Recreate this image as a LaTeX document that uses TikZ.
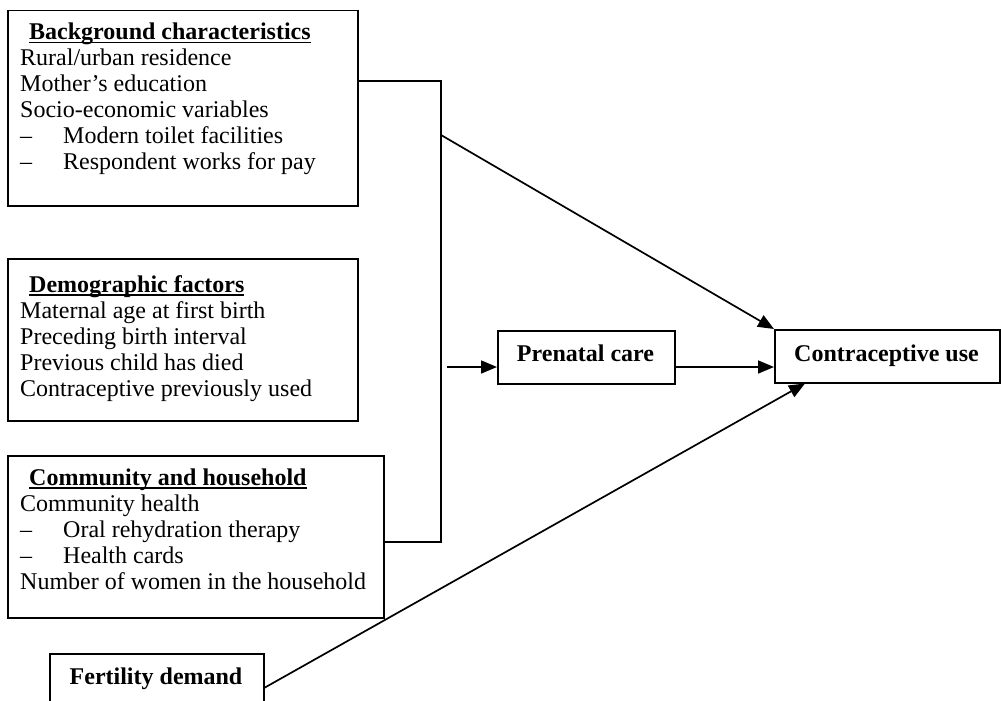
\documentclass[tikz,border=0pt]{standalone}
\usepackage{fontspec}
\setmainfont{Liberation Serif}
\usetikzlibrary{arrows.meta,calc}
\newcommand\myul[1]{\setbox0\hbox{#1}\rlap{\rule[-3.5pt]{\wd0}{1.4pt}}\box0}
\begin{document}
\begin{tikzpicture}[x=1pt,y=-1pt,
  box/.style={draw, line width=1.5pt, anchor=north west, inner sep=0pt},
  txt/.style={font=\fontsize{24}{26}\selectfont, inner sep=0pt, anchor=base west},
  btxt/.style={font=\fontsize{24}{26}\selectfont\bfseries, inner sep=0pt, anchor=base},
  conn/.style={line width=1.7pt},
  arr/.style={conn, -{Triangle[length=16pt,width=13pt]}}]
\clip (0,0) rectangle (1001,701);
\fill[white] (0,0) rectangle (1001,701);
% boxes
\node[box, minimum width=350pt, minimum height=195pt] (bg) at (7,10) {};
\node[box, minimum width=350pt, minimum height=162pt] (dm) at (7,258) {};
\node[box, minimum width=376pt, minimum height=162pt] (ch) at (7,455) {};
\node[box, minimum width=214pt, minimum height=68pt] (fd) at (49,653) {};
\node[box, minimum width=177pt, minimum height=53pt] (pc) at (497,330) {};
\node[box, minimum width=225pt, minimum height=53pt] (cu) at (774,329) {};
% texts
\node[txt] (bgt) at (20,40) {\begin{tabular}[t]{@{}l@{}}\hspace*{9pt}\textbf{\myul{Background characteristics}}\\
Rural/urban residence\\
Mother’s education\\
Socio-economic variables\\
\makebox[43pt][l]{–}Modern toilet facilities\\
\makebox[43pt][l]{–}Respondent works for pay\end{tabular}};
\node[txt] (dmt) at (20,292) {\begin{tabular}[t]{@{}l@{}}\hspace*{9pt}\textbf{\myul{Demographic factors}}\\
Maternal age at first birth\\
Preceding birth interval\\
Previous child has died\\
Contraceptive previously used\end{tabular}};
\node[txt] (cht) at (20,485) {\begin{tabular}[t]{@{}l@{}}\hspace*{9pt}\textbf{\myul{Community and household}}\\
Community health\\
\makebox[43pt][l]{–}Oral rehydration therapy\\
\makebox[43pt][l]{–}Health cards\\
Number of women in the household\end{tabular}};
\node[btxt] (fdt) at (156,684) {Fertility demand};
\node[btxt] (pct) at (585.5,361) {Prenatal care};
\node[btxt] (cut) at (886.5,361) {Contraceptive use};
% connectors
\coordinate (t1) at (441,81);
\coordinate (t2) at (441,542);
\coordinate (d0) at (441,135);
\coordinate (a0) at (447,367);
\draw[conn] (bg.east |- t1) -- (t1) -- (t2) -- (ch.east |- t2);
\draw[arr] (d0) -- (cu.north west);
\draw[arr] (a0) -- (pc.west |- a0);
\draw[arr] (pc.east |- a0) -- (cu.west |- a0);
\draw[arr] (fd.east) -- ($(cu.south west)+(31,0)$);
\end{tikzpicture}
\end{document}
